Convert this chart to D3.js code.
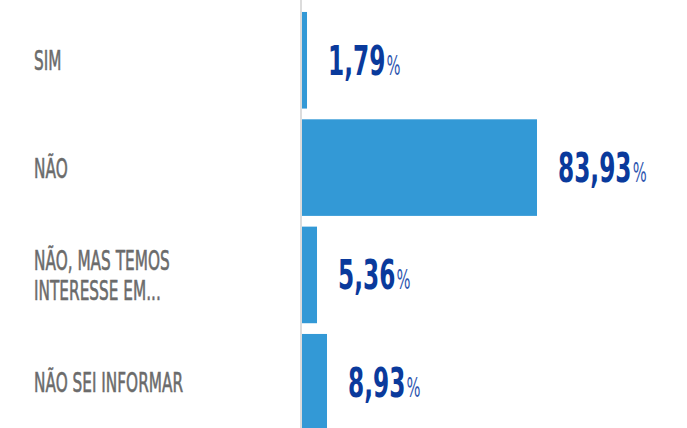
<!DOCTYPE html>
<html>
<head>
<meta charset="utf-8">
<script src="https://cdn.jsdelivr.net/npm/d3@7"></script>
<style>
  html, body { margin: 0; padding: 0; background: #fff; }
  svg { display: block; }
</style>
</head>
<body>
<svg id="chart" width="687" height="428"></svg>
<script>
// Answer categories (each entry may hold several lines) and their shares in percent
const categories = ["SIM", "NÃO", "NÃO, MAS TEMOS|INTERESSE EM...", "NÃO SEI INFORMAR"];
const values = [1.79, 83.93, 5.36, 8.93];
const valueLabels = ["1,79", "83,93", "5,36", "8,93"];

const W = 687, H = 428;
const svg = d3.select("#chart");

const labelFont = "'DejaVu Sans Condensed', 'DejaVu Sans', sans-serif";

const x = d3.scaleLinear().domain([0, 100]).range([302, 582]);
const y = d3.scaleBand()
  .domain(categories)
  .range([6.6, 6.6 + 4 * 107.33])
  .paddingInner(0.1)
  .paddingOuter(0.05);

const data = categories.map((c, i) => ({ cat: c, value: values[i], label: valueLabels[i] }));

// baseline axis
svg.append("line")
  .attr("x1", 301).attr("x2", 301)
  .attr("y1", 0).attr("y2", H)
  .attr("stroke", "#dcdcdc")
  .attr("stroke-width", 2);

// bars
svg.append("g").selectAll("rect")
  .data(data)
  .join("rect")
  .attr("x", x(0))
  .attr("y", d => y(d.cat))
  .attr("width", d => Math.max(5, x(d.value) - x(0)))
  .attr("height", y.bandwidth())
  .attr("fill", "#3399d6");

// category labels (one text element per line)
const lineGap = 30.5;
svg.append("g").selectAll("g")
  .data(data)
  .join("g")
  .each(function (d) {
    const lines = d.cat.split("|");
    const cy = y(d.cat) + y.bandwidth() / 2;
    const by0 = cy + 10 - (lines.length - 1) * lineGap / 2;
    d3.select(this).selectAll("text")
      .data(lines)
      .join("text")
      .attr("transform", (t, i) => `translate(34,${by0 + i * lineGap}) scale(0.655,1)`)
      .attr("font-family", labelFont)
      .attr("font-size", 26)
      .attr("fill", "#6b6b6b")
      .attr("stroke", "#6b6b6b")
      .attr("stroke-width", 0.55)
      .text(t => t);
  });

// value labels
const val = svg.append("g").selectAll("text")
  .data(data)
  .join("text")
  .attr("transform", d => {
    const cy = y(d.cat) + y.bandwidth() / 2;
    return `translate(${Math.max(x(d.value), x(0) + 5) + 21},${cy + 14.5}) scale(0.63,1)`;
  })
  .attr("font-family", labelFont)
  .attr("font-weight", "bold")
  .attr("font-size", 41)
  .attr("fill", "#0a3a9c");

val.append("tspan").text(d => d.label);
val.append("tspan")
  .attr("font-size", 26)
  .attr("font-weight", "normal")
  .attr("fill", "#2f57b0")
  .attr("dx", 2)
  .text("%");
</script>
</body>
</html>
